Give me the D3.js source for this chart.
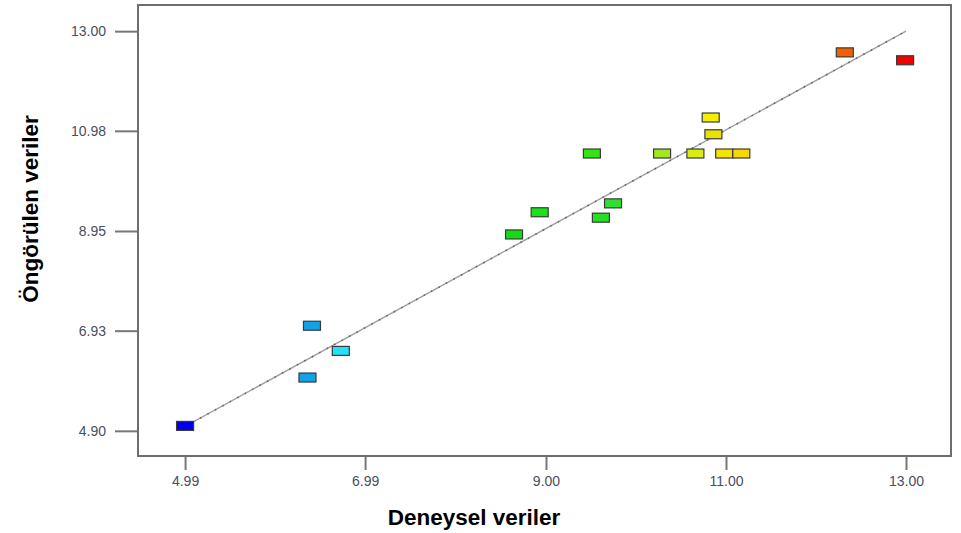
<!DOCTYPE html>
<html>
<head>
<meta charset="utf-8">
<script src="https://cdn.jsdelivr.net/npm/d3@7"></script>
<style>
  body { margin: 0; background: #fff; }
  svg { display: block; font-family: "Liberation Sans", Arial, sans-serif; }
</style>
</head>
<body>
<script>
// values
const actual    = [4.99, 6.40, 6.72, 6.35, 8.645, 8.93, 9.61, 9.745, 9.51, 10.29, 10.66, 10.98, 11.17, 10.83, 10.86, 12.32, 12.99];
const predicted = [5.00, 7.03, 6.52, 5.98, 8.88, 9.33, 9.22, 9.51, 10.52, 10.52, 10.52, 10.52, 10.52, 11.25, 10.91, 12.57, 12.41];
const pointColors = ["#0000e6", "#12a2ea", "#22e2f8", "#12a2ea", "#12dc12", "#18e418", "#22e022", "#30e030", "#34e414",
                     "#a2e822", "#d8ee12", "#f2e600", "#f8d800", "#f2f000", "#e8e200", "#f26000", "#f20000"];
const xTicks = [4.99, 6.99, 9.00, 11.00, 13.00];
const yTicks = [4.90, 6.93, 8.95, 10.98, 13.00];
const fitLine = [4.99, 13.00];

const chartWidth = 961, chartHeight = 533;
const plotLeft = 138, plotRight = 951, plotTop = 5, plotBottom = 456;

const svg = d3.select("body").append("svg")
    .attr("width", chartWidth)
    .attr("height", chartHeight);

const x = d3.scaleLinear().domain([4.467, 13.5]).range([plotLeft, plotRight]);
const y = d3.scaleLinear().domain([4.39, 13.53]).range([plotBottom, plotTop]);

// frame
svg.append("rect")
    .attr("x", plotLeft).attr("y", plotTop)
    .attr("width", plotRight - plotLeft).attr("height", plotBottom - plotTop)
    .attr("fill", "none")
    .attr("stroke", "#6e6e6e")
    .attr("stroke-width", 2);

const xAxis = d3.axisBottom(x).tickValues(xTicks).tickFormat(d3.format(".2f")).tickSize(13).tickPadding(6);
const yAxis = d3.axisLeft(y).tickValues(yTicks).tickFormat(d3.format(".2f")).tickSize(22).tickPadding(9);

const gx = svg.append("g").attr("transform", "translate(0," + (plotBottom + 1) + ")").call(xAxis);
const gy = svg.append("g").attr("transform", "translate(" + (plotLeft - 1) + ",0)").call(yAxis);

[gx, gy].forEach(g => {
    g.select(".domain").remove();
    g.selectAll(".tick line").attr("stroke", "#777").attr("stroke-width", 2);
    g.selectAll(".tick text")
        .attr("fill", "#4a4e60")
        .style("font-size", "14px");
});

// y = x fit line
svg.append("line")
    .attr("x1", x(fitLine[0])).attr("y1", y(fitLine[0]))
    .attr("x2", x(fitLine[1])).attr("y2", y(fitLine[1]))
    .attr("stroke", "#a0a0a0")
    .attr("stroke-width", 1.4);
svg.append("line")
    .attr("x1", x(fitLine[0])).attr("y1", y(fitLine[0]))
    .attr("x2", x(fitLine[1])).attr("y2", y(fitLine[1]))
    .attr("stroke", "#666")
    .attr("stroke-width", 1.6)
    .attr("stroke-dasharray", "1.5,7");

// markers
const mw = 17, mh = 9;
svg.selectAll("rect.pt")
    .data(actual)
    .enter()
    .append("rect")
    .attr("class", "pt")
    .attr("x", d => x(d) - mw / 2)
    .attr("y", (d, i) => y(predicted[i]) - mh / 2)
    .attr("width", mw)
    .attr("height", mh)
    .attr("fill", (d, i) => pointColors[i])
    .attr("stroke", "#3a3a3a")
    .attr("stroke-width", 1.2);

// axis titles
svg.append("text")
    .attr("x", 474).attr("y", 525)
    .attr("text-anchor", "middle")
    .style("font-size", "22.5px")
    .style("font-weight", "bold")
    .text("Deneysel veriler");

svg.append("text")
    .attr("transform", "translate(38,209) rotate(-90)")
    .attr("text-anchor", "middle")
    .style("font-size", "22.5px")
    .style("font-weight", "bold")
    .text("Öngörülen veriler");
</script>
</body>
</html>
